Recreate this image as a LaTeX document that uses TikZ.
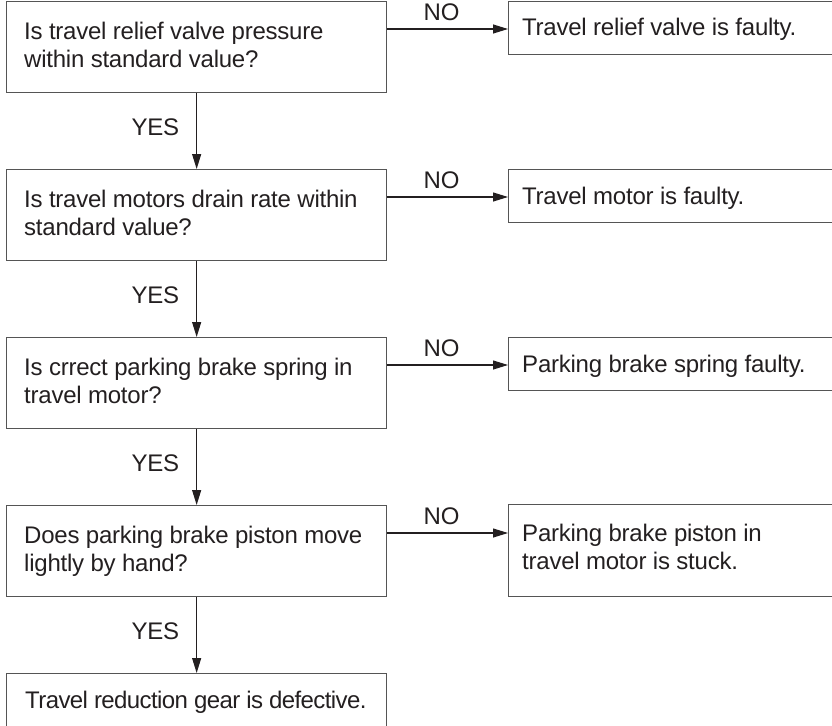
\documentclass[tikz,border=0pt]{standalone}
\usepackage{fontspec}
\setmainfont{Liberation Sans}[LetterSpace=-1]
\usetikzlibrary{arrows.meta,calc}
\definecolor{ink}{HTML}{231F20}
\definecolor{frame}{HTML}{555555}
\begin{document}
\begin{tikzpicture}[x=1pt,y=-1pt,
  every node/.style={text=ink, font=\fontsize{24}{28}\selectfont},
  qbox/.style={draw=frame, line width=1.3pt, anchor=north west,
    minimum width=380pt, minimum height=91pt, inner sep=0pt},
  abox/.style={draw=frame, line width=1.3pt, anchor=north west,
    minimum width=340pt, minimum height=53pt, inner sep=0pt},
  % anchored at the baseline of the last line
  txt/.style={anchor=base west, align=left, inner sep=0pt},
  flow/.style={draw=ink, line width=1.1pt, -{Triangle[length=15pt,width=9pt]}},
  tag/.style={inner sep=0pt}
]
\clip (0,0) rectangle (832,725);

% question boxes (left column)
\node[qbox] (q1) at (6,1)   {};
\node[qbox] (q2) at (6,169) {};
\node[qbox] (q3) at (6,337) {};
\node[qbox] (q4) at (6,505) {};
\node[qbox, minimum height=53pt] (q5) at (6,673) {};

\node[txt] (q1t) at ($(q1.north west)+(18,66)$) {Is travel relief valve pressure\\within standard value?};
\node[txt] (q2t) at ($(q2.north west)+(18,66)$) {Is travel motors drain rate within\\standard value?};
\node[txt] (q3t) at ($(q3.north west)+(18,66)$) {Is crrect parking brake spring in\\travel motor?};
\node[txt] (q4t) at ($(q4.north west)+(18,66)$) {Does parking brake piston move\\lightly by hand?};
\node[txt] (q5t) at ($(q5.north west)+(19,35)$)
  {\addfontfeature{LetterSpace=-2.5}Travel reduction gear is defective.};

% answer boxes (right column)
\node[abox] (r1) at (508,1)   {};
\node[abox] (r2) at (508,169) {};
\node[abox] (r3) at (508,337) {};
\node[abox, minimum height=92pt] (r4) at (508,504) {};

\node[txt] (r1t) at ($(r1.north west)+(14,35)$) {Travel relief valve is faulty.};
\node[txt] (r2t) at ($(r2.north west)+(14,35)$) {Travel motor is faulty.};
\node[txt] (r3t) at ($(r3.north west)+(14,35)$) {Parking brake spring faulty.};
\node[txt] (r4t) at ($(r4.north west)+(14,65)$) {Parking brake piston in\\travel motor is stuck.};

% NO branches
\coordinate (n1) at ($(q1.north east)+(0,28)$);
\coordinate (n2) at ($(q2.north east)+(0,28)$);
\coordinate (n3) at ($(q3.north east)+(0,28)$);
\coordinate (n4) at ($(q4.north east)+(0,28)$);
\foreach \i in {1,2,3,4}{
  \draw[flow] (n\i) -- node[tag, pos=0.45, yshift=17pt]{NO} (n\i -| r\i.west);
}

% YES branches
\draw[flow] (q1.south) -- node[tag, pos=0.45, anchor=east, xshift=-17pt]{YES} (q2.north);
\draw[flow] (q2.south) -- node[tag, pos=0.45, anchor=east, xshift=-17pt]{YES} (q3.north);
\draw[flow] (q3.south) -- node[tag, pos=0.45, anchor=east, xshift=-17pt]{YES} (q4.north);
\draw[flow] (q4.south) -- node[tag, pos=0.45, anchor=east, xshift=-17pt]{YES} (q5.north);
\end{tikzpicture}
\end{document}
